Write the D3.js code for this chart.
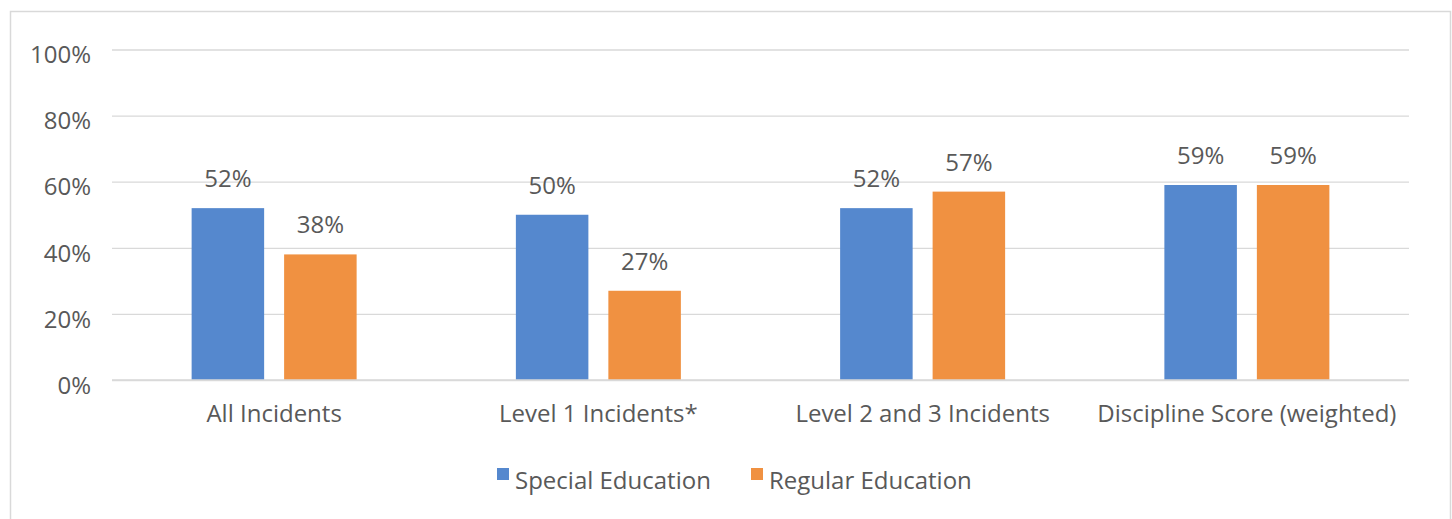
<!DOCTYPE html>
<html>
<head>
<meta charset="utf-8">
<script src="https://cdn.jsdelivr.net/npm/d3@7"></script>
<style>
  html, body { margin: 0; padding: 0; background: #fff; }
  svg { display: block; }
  text { font-family: "Open Sans", "Noto Sans", sans-serif; fill: #595959; }
</style>
</head>
<body>
<svg id="chart" width="1452" height="519"></svg>
<script>
// Share of students, by incident type
const categories = ["All Incidents", "Level 1 Incidents*", "Level 2 and 3 Incidents", "Discipline Score (weighted)"];
const seriesNames = ["Special Education", "Regular Education"];
const specialEd = [0.52, 0.50, 0.52, 0.59];
const regularEd = [0.38, 0.27, 0.57, 0.59];
const yTicks = [0, 0.2, 0.4, 0.6, 0.8, 1.0];
const colors = ["#5588CE", "#F09141"];

const svg = d3.select("#chart");
const plot = { left: 112, right: 1409, top: 49.5, bottom: 380 };
const fontSize = 24;

// outer frame
svg.append("rect")
  .attr("x", 10.5).attr("y", 11.5)
  .attr("width", 1440).attr("height", 530)
  .attr("fill", "#fff").attr("stroke", "#d9d9d9").attr("stroke-width", 1.5);

const y = d3.scaleLinear().domain([0, 1]).range([plot.bottom, plot.top]);
const x0 = d3.scaleBand().domain(categories).range([plot.left, plot.right]).padding(0);
const groupW = 165;
const x1 = d3.scaleBand().domain(seriesNames).range([0, groupW]).paddingInner(0.216).paddingOuter(0);

// gridlines and value axis
const yAxis = d3.axisLeft(y).tickValues(yTicks).tickFormat(d3.format(".0%"))
  .tickSize(-(plot.right - plot.left)).tickPadding(21);
const gy = svg.append("g").attr("transform", `translate(${plot.left},0)`).call(yAxis);
gy.select(".domain").remove();
gy.selectAll(".tick line").attr("stroke", "#d9d9d9").attr("stroke-width", 1.3);
gy.selectAll(".tick text")
  .attr("font-size", fontSize).attr("fill", "#595959")
  .attr("font-family", null).attr("dy", "0.55em");

// bars
const rows = categories.map((c, i) => ({ cat: c, vals: [specialEd[i], regularEd[i]] }));
const groups = svg.append("g").selectAll("g").data(rows).join("g")
  .attr("transform", d => `translate(${x0(d.cat) + (x0.bandwidth() - groupW) / 2},0)`);

groups.selectAll("rect")
  .data(d => d.vals.map((v, j) => ({ s: seriesNames[j], v, j })))
  .join("rect")
  .attr("x", d => x1(d.s))
  .attr("y", d => y(d.v))
  .attr("width", x1.bandwidth())
  .attr("height", d => y(0) - y(d.v))
  .attr("fill", d => colors[d.j]);

// value labels above bars
groups.selectAll("text.val")
  .data(d => d.vals.map((v, j) => ({ s: seriesNames[j], v, j })))
  .join("text")
  .attr("class", "val")
  .attr("x", d => x1(d.s) + x1.bandwidth() / 2)
  .attr("y", d => y(d.v) - 21)
  .attr("text-anchor", "middle")
  .attr("font-size", fontSize)
  .text(d => d3.format(".0%")(d.v));

// baseline (0%) drawn again over bar bottoms
svg.append("line")
  .attr("x1", plot.left).attr("x2", plot.right)
  .attr("y1", y(0)).attr("y2", y(0))
  .attr("stroke", "#d9d9d9").attr("stroke-width", 1.3);

// category axis labels
const xAxis = d3.axisBottom(x0).tickSize(0).tickPadding(25);
const gx = svg.append("g").attr("transform", `translate(0,${plot.bottom})`).call(xAxis);
gx.select(".domain").remove();
gx.selectAll(".tick text")
  .attr("font-size", fontSize).attr("fill", "#595959").attr("font-family", null);

// legend
const legendItems = [
  { name: seriesNames[0], color: colors[0], x: 497 },
  { name: seriesNames[1], color: colors[1], x: 751 }
];
const lg = svg.append("g").selectAll("g").data(legendItems).join("g")
  .attr("transform", d => `translate(${d.x},468)`);
lg.append("rect").attr("width", 12).attr("height", 12).attr("fill", d => d.color);
lg.append("text").attr("x", 18).attr("y", 21)
  .attr("font-size", fontSize).text(d => d.name);
</script>
</body>
</html>
